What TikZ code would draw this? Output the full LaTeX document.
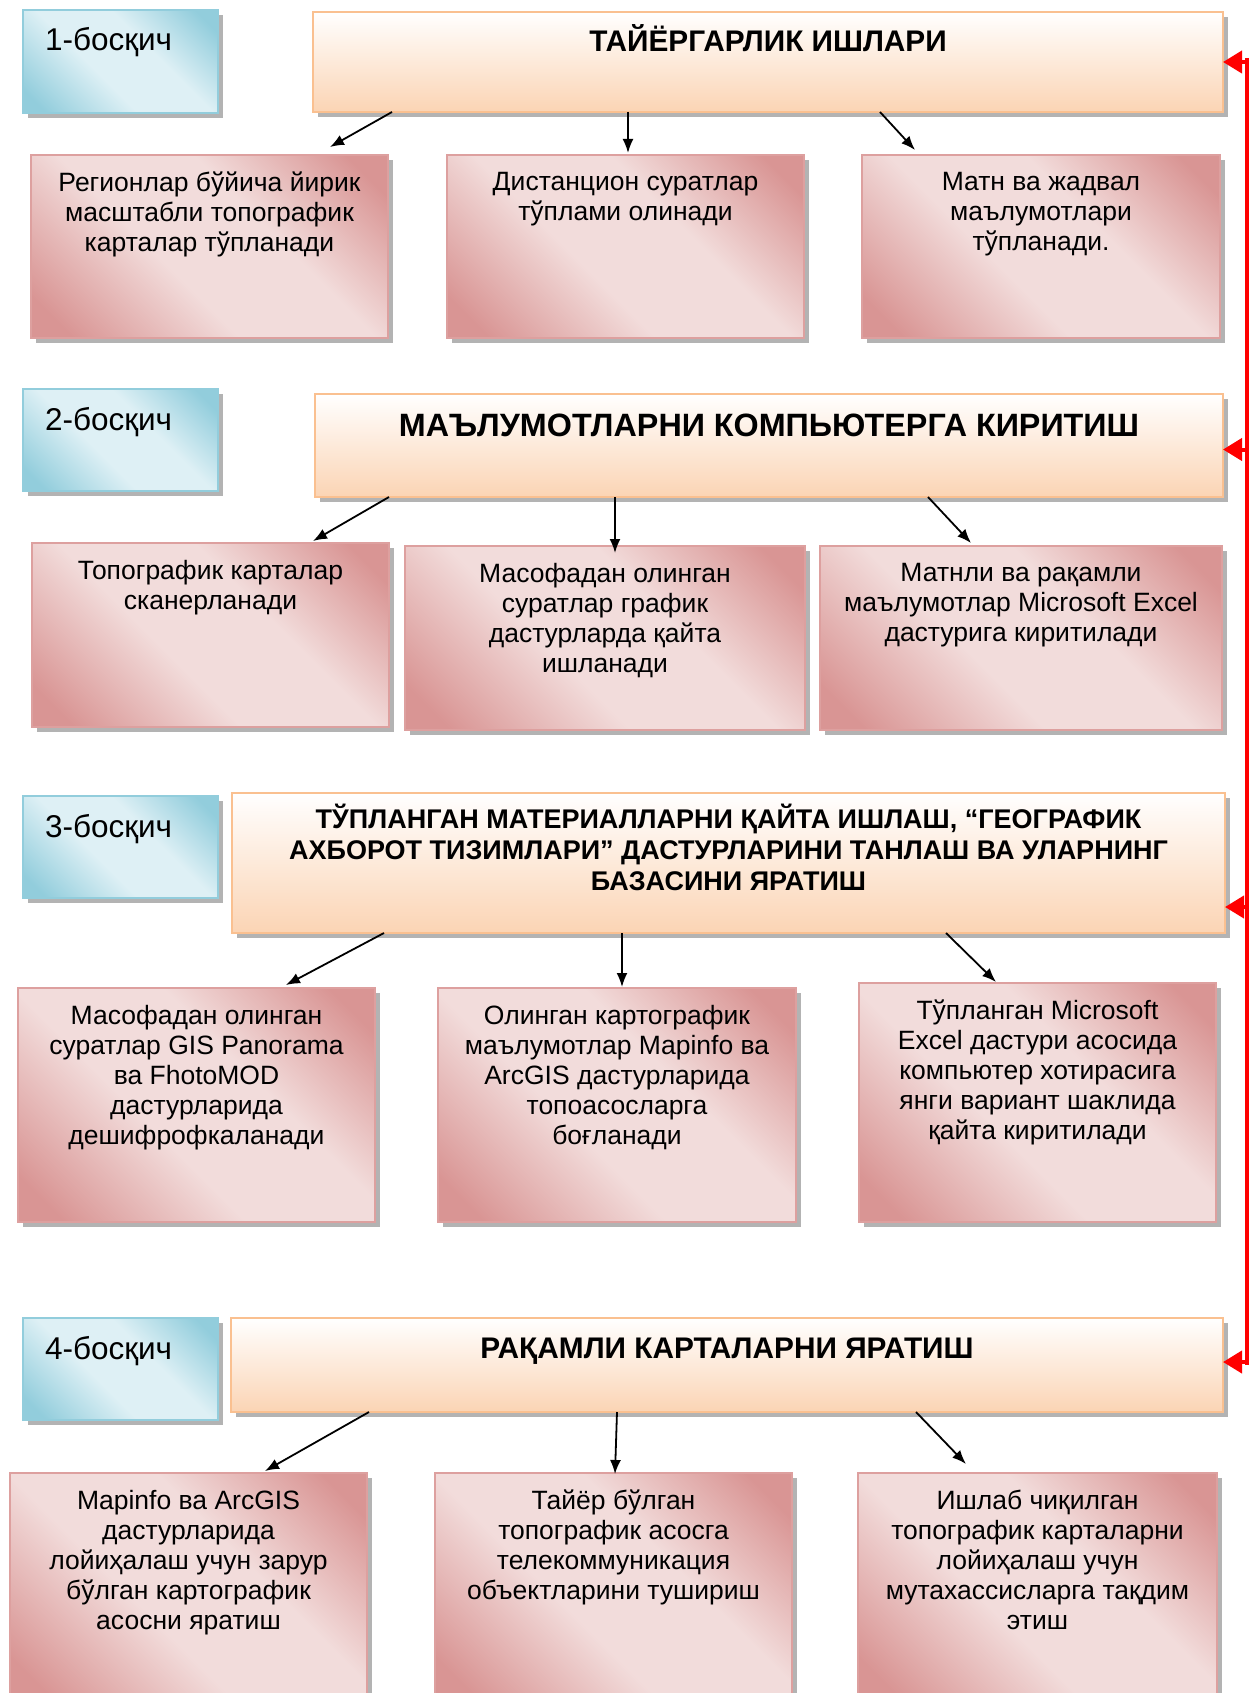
\documentclass[tikz,border=0pt]{standalone}
\usepackage{fontspec}
\setmainfont{Liberation Sans}
\usetikzlibrary{positioning,shadows,arrows.meta}

\definecolor{rosedark}{HTML}{D99594}
\definecolor{roselight}{HTML}{F2DCDB}
\definecolor{bluedark}{HTML}{92CDDC}
\definecolor{bluelight}{HTML}{DEF0F5}
\definecolor{peach}{HTML}{FBD4B4}
\definecolor{peachline}{HTML}{FAC090}
\pgfdeclarehorizontalshading{roseband}{100bp}{color(0bp)=(rosedark); color(20bp)=(rosedark); color(42bp)=(roselight); color(60bp)=(roselight); color(80bp)=(rosedark); color(100bp)=(rosedark)}
\pgfdeclarehorizontalshading{blueband}{100bp}{color(0bp)=(bluedark); color(20bp)=(bluedark); color(42bp)=(bluelight); color(60bp)=(bluelight); color(80bp)=(bluedark); color(100bp)=(bluedark)}

\begin{document}
\begin{tikzpicture}[x=1pt, y=1pt, >={Latex[length=14pt,width=11pt]},
    every node/.style={inner sep=0pt, outer sep=0pt},
    boxshadow/.style={drop shadow={shadow xshift=5pt, shadow yshift=-5pt, fill=black!40, opacity=.75}},
    stepbox/.style={anchor=north west, draw=bluedark, line width=1.5pt, shade, shading=blueband, shading angle=45, boxshadow},
    headbox/.style={anchor=north west, draw=peachline, line width=2pt, top color=white, bottom color=peach, boxshadow},
    card/.style={anchor=north west, draw=rosedark!90, line width=1.5pt, shade, shading=roseband, shading angle=45, boxshadow},
    topstrut/.style={execute at begin node={\rule{0pt}{#1}}},
    steptext/.style={anchor=base west, font=\fontsize{31.5}{35}\selectfont},
    headtext/.style={anchor=north, align=center, topstrut=25pt, font=\bfseries\fontsize{29.8}{32}\selectfont},
    cardtext/.style={anchor=north, align=center, topstrut=22pt, font=\fontsize{26.5}{30}\selectfont},
    link/.style={->, line width=1.8pt},
    rail/.style={red, line width=4pt},
    backlink/.style={red, line width=4pt, -{Triangle[length=19pt,width=22pt]}}]
  \useasboundingbox (0,0) rectangle (1251,-1693);

  % stage 1
  \node[stepbox, minimum width=195pt, minimum height=103pt] (s1) at (23,-10) {};
  \node[steptext] (s1t) at ([xshift=22pt,yshift=-41pt]s1.north west) {1-босқич};
  \node[headbox, minimum width=910pt, minimum height=100pt] (h1) at (313,-12) {};
  \node[headtext] (h1t) at ([yshift=-13pt]h1.north) {ТАЙЁРГАРЛИК ИШЛАРИ};
  \node[card, minimum width=357pt, minimum height=183pt] (c11) at (31,-155) {};
  \node[card, minimum width=357pt, minimum height=183pt] (c12) at (447,-155) {};
  \node[card, minimum width=358pt, minimum height=183pt] (c13) at (862,-155) {};
  \node[cardtext] (c11t) at ([yshift=-17pt]c11.north) {Регионлар бўйича йирик\\масштабли топографик\\карталар тўпланади};
  \node[cardtext] (c12t) at ([yshift=-17pt]c12.north) {Дистанцион суратлар\\тўплами олинади};
  \node[cardtext] (c13t) at ([yshift=-17pt]c13.north) {Матн ва жадвал\\маълумотлари\\тўпланади.};
  \draw[link] ([xshift=79pt]h1.south west) -- ([xshift=299pt,yshift=8pt]c11.north west);
  \draw[link] ([xshift=315pt]h1.south west) -- ([xshift=181pt,yshift=2pt]c12.north west);
  \draw[link] ([xshift=567pt]h1.south west) -- ([xshift=53pt,yshift=5pt]c13.north west);

  % stage 2
  \node[stepbox, minimum width=195pt, minimum height=102pt] (s2) at (23,-389) {};
  \node[steptext] (s2t) at ([xshift=22pt,yshift=-41pt]s2.north west) {2-босқич};
  \node[headbox, minimum width=908pt, minimum height=103pt] (h2) at (315,-394) {};
  \node[headtext, topstrut=27pt, font=\bfseries\fontsize{32.3}{34}\selectfont] (h2t) at ([yshift=-15pt]h2.north) {МАЪЛУМОТЛАРНИ КОМПЬЮТЕРГА КИРИТИШ};
  \node[card, minimum width=357pt, minimum height=184pt] (c21) at (32,-543) {};
  \node[card, minimum width=400pt, minimum height=184pt] (c22) at (405,-546) {};
  \node[card, minimum width=402pt, minimum height=184pt] (c23) at (820,-546) {};
  \node[cardtext] (c21t) at ([yshift=-17pt]c21.north) {Топографик карталар\\сканерланади};
  \node[cardtext] (c22t) at ([yshift=-17pt]c22.north) {Масофадан олинган\\суратлар график\\дастурларда қайта\\ишланади};
  \node[cardtext] (c23t) at ([yshift=-17pt]c23.north) {Матнли ва рақамли\\маълумотлар Microsoft Excel\\дастурига киритилади};
  \draw[link] ([xshift=74pt]h2.south west) -- ([xshift=281pt,yshift=2pt]c21.north west);
  \draw[link] ([xshift=300pt]h2.south west) -- ([xshift=210pt,yshift=-7pt]c22.north west);
  \draw[link] ([xshift=613pt]h2.south west) -- ([xshift=151pt,yshift=3pt]c23.north west);

  % stage 3
  \node[stepbox, minimum width=195pt, minimum height=102pt] (s3) at (23,-796) {};
  \node[steptext] (s3t) at ([xshift=22pt,yshift=-41pt]s3.north west) {3-босқич};
  \node[headbox, minimum width=993pt, minimum height=140pt] (h3) at (232,-793) {};
  \node[headtext, topstrut=23pt, font=\bfseries\fontsize{27}{31}\selectfont] (h3t) at ([yshift=-11pt]h3.north) {ТЎПЛАНГАН МАТЕРИАЛЛАРНИ ҚАЙТА ИШЛАШ, “ГЕОГРАФИК\\АХБОРОТ ТИЗИМЛАРИ” ДАСТУРЛАРИНИ ТАНЛАШ ВА УЛАРНИНГ\\БАЗАСИНИ ЯРАТИШ};
  \node[card, minimum width=357pt, minimum height=234pt] (c31) at (18,-988) {};
  \node[card, minimum width=358pt, minimum height=234pt] (c32) at (438,-988) {};
  \node[card, minimum width=357pt, minimum height=239pt] (c33) at (859,-983) {};
  \node[cardtext] (c31t) at ([yshift=-17pt]c31.north) {Масофадан олинган\\суратлар GIS Panorama\\ва FhotoMOD\\дастурларида\\дешифрофкаланади};
  \node[cardtext] (c32t) at ([yshift=-17pt]c32.north) {Олинган картографик\\маълумотлар Mapinfo ва\\ArcGIS дастурларида\\топоасосларга\\боғланади};
  \node[cardtext] (c33t) at ([yshift=-17pt]c33.north) {Тўпланган Microsoft\\Excel дастури асосида\\компьютер хотирасига\\янги вариант шаклида\\қайта киритилади};
  \draw[link] ([xshift=152pt]h3.south west) -- ([xshift=268pt,yshift=3pt]c31.north west);
  \draw[link] ([xshift=390pt]h3.south west) -- ([xshift=184pt,yshift=1pt]c32.north west);
  \draw[link] ([xshift=714pt]h3.south west) -- ([xshift=137pt,yshift=1pt]c33.north west);

  % stage 4
  \node[stepbox, minimum width=195pt, minimum height=102pt] (s4) at (23,-1318) {};
  \node[steptext] (s4t) at ([xshift=22pt,yshift=-41pt]s4.north west) {4-босқич};
  \node[headbox, minimum width=992pt, minimum height=94pt] (h4) at (231,-1318) {};
  \node[headtext] (h4t) at ([yshift=-15pt]h4.north) {РАҚАМЛИ КАРТАЛАРНИ ЯРАТИШ};
  \node[card, minimum width=357pt, minimum height=230pt] (c41) at (10,-1473) {};
  \node[card, minimum width=357pt, minimum height=230pt] (c42) at (435,-1473) {};
  \node[card, minimum width=359pt, minimum height=230pt] (c43) at (858,-1473) {};
  \node[cardtext] (c41t) at ([yshift=-17pt]c41.north) {Mapinfo ва ArcGIS\\дастурларида\\лойиҳалаш учун зарур\\бўлган картографик\\асосни яратиш};
  \node[cardtext] (c42t) at ([yshift=-17pt]c42.north) {Тайёр бўлган\\топографик асосга\\телекоммуникация\\объектларини тушириш};
  \node[cardtext] (c43t) at ([yshift=-17pt]c43.north) {Ишлаб чиқилган\\топографик карталарни\\лойиҳалаш учун\\мутахассисларга тақдим\\этиш};
  \draw[link] ([xshift=138pt]h4.south west) -- ([xshift=255pt,yshift=2pt]c41.north west);
  \draw[link] ([xshift=386pt]h4.south west) -- ([xshift=180pt,yshift=-1pt]c42.north west);
  \draw[link] ([xshift=685pt]h4.south west) -- ([xshift=108pt,yshift=9pt]c43.north west);

  % feedback rail
  \coordinate (railtop) at (1247,-58);
  \coordinate (railend) at (1247,-1365);
  \draw[rail] (railtop) -- (railend);
  \draw[backlink] ([xshift=24pt]h1.east) -- (h1.east);
  \draw[backlink] ([xshift=24pt,yshift=-4pt]h2.east) -- ([yshift=-4pt]h2.east);
  \draw[backlink] ([xshift=22pt,yshift=-44pt]h3.east) -- ([yshift=-44pt]h3.east);
  \draw[backlink] ([xshift=24pt,yshift=3pt]h4.east) -- ([yshift=3pt]h4.east);
\end{tikzpicture}
\end{document}
